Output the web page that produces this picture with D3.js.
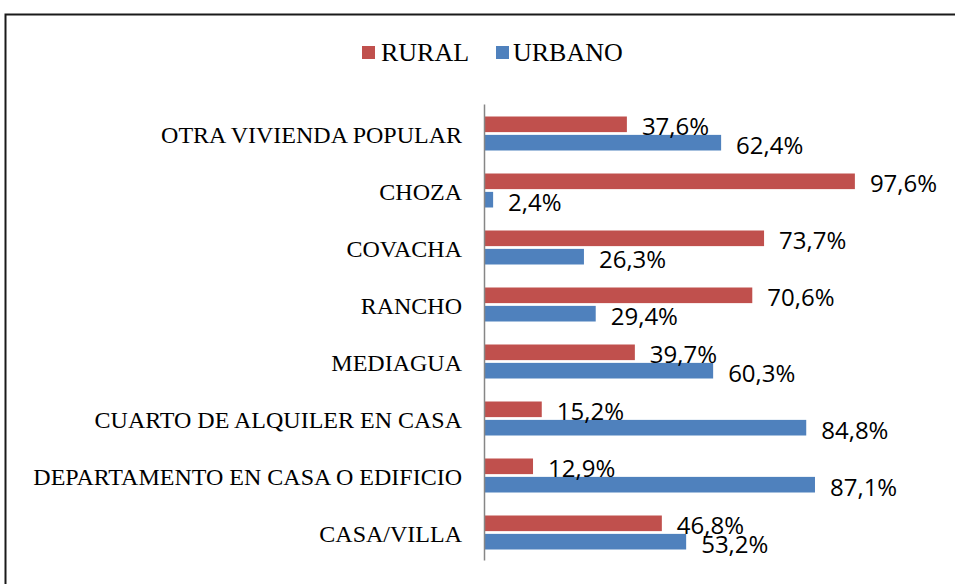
<!DOCTYPE html>
<html>
<head>
<meta charset="utf-8">
<script src="https://cdn.jsdelivr.net/npm/d3@7"></script>
<style>
  html, body { margin: 0; padding: 0; background: #fff; }
  svg { display: block; }
</style>
</head>
<body>
<svg id="chart" width="955" height="584"></svg>
<script>
// Housing types, listed top to bottom
const categories = [
  "OTRA VIVIENDA POPULAR",
  "CHOZA",
  "COVACHA",
  "RANCHO",
  "MEDIAGUA",
  "CUARTO DE ALQUILER EN CASA",
  "DEPARTAMENTO EN CASA O EDIFICIO",
  "CASA/VILLA"
];
const seriesNames = ["RURAL", "URBANO"];
const rural  = [37.6, 97.6, 73.7, 70.6, 39.7, 15.2, 12.9, 46.8];
const urbano = [62.4, 2.4, 26.3, 29.4, 60.3, 84.8, 87.1, 53.2];

const colors = { RURAL: "#C0504D", URBANO: "#4F81BD" };
const values = { RURAL: rural, URBANO: urbano };

const svg = d3.select("#chart");

// Frame around the chart area
svg.append("rect")
  .attr("x", 5.5).attr("y", 14.5)
  .attr("width", 970).attr("height", 600)
  .attr("fill", "none")
  .attr("stroke", "#1a1a1a")
  .attr("stroke-width", 2);

const x = d3.scaleLinear().domain([0, 100]).range([484, 864]);
const y = d3.scaleBand().domain(categories).range([104, 560]);
const inner = d3.scaleBand().domain(seriesNames).range([12.5, 46.5]).paddingInner(0.15);

const fmt = v => d3.format(".1f")(v).replace(".", ",") + "%";

// Bars and value labels
const groups = svg.append("g").selectAll("g")
  .data(categories)
  .join("g")
  .attr("transform", d => `translate(0,${y(d)})`);

seriesNames.forEach(s => {
  groups.append("rect")
    .attr("x", x(0))
    .attr("y", inner(s))
    .attr("width", (d, i) => x(values[s][i]) - x(0))
    .attr("height", inner.bandwidth())
    .attr("fill", colors[s]);
});

seriesNames.forEach(s => {
  groups.append("text")
    .attr("x", (d, i) => x(values[s][i]) + 15)
    .attr("y", inner(s) + inner.bandwidth() / 2 + 1.5)
    .attr("dominant-baseline", "central")
    .attr("font-family", "'Open Sans', sans-serif")
    .attr("font-size", 24)
    .attr("fill", "#000")
    .text((d, i) => fmt(values[s][i]));
});

// Category axis
const axis = d3.axisLeft(y).tickSize(0).tickPadding(22);
const ax = svg.append("g").attr("transform", `translate(${x(0)},0)`).call(axis);
ax.select(".domain").attr("stroke", "#868686").attr("stroke-width", 1.5);
ax.selectAll(".tick text")
  .attr("font-family", "'Liberation Serif', 'Times New Roman', serif")
  .attr("font-size", 24)
  .attr("fill", "#000")
  .attr("dy", "0.42em");

// Legend
const legendItems = [
  { name: "RURAL", sx: 362, tx: 381 },
  { name: "URBANO", sx: 496, tx: 513 }
];
const lg = svg.append("g");
legendItems.forEach(it => {
  lg.append("rect")
    .attr("x", it.sx).attr("y", 46)
    .attr("width", 13).attr("height", 13)
    .attr("fill", colors[it.name]);
  lg.append("text")
    .attr("x", it.tx).attr("y", 61)
    .attr("font-family", "'Liberation Serif', 'Times New Roman', serif")
    .attr("font-size", 26)
    .attr("fill", "#000")
    .text(it.name);
});
</script>
</body>
</html>
